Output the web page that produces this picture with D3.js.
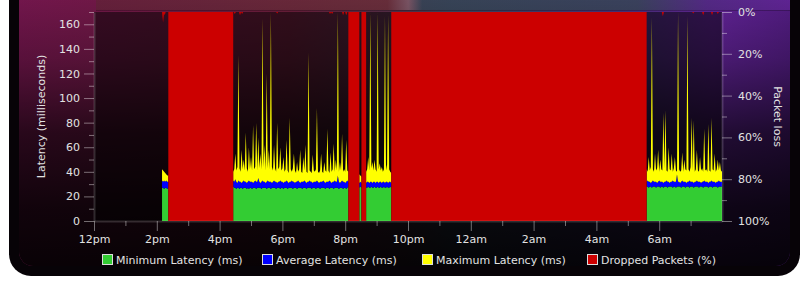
<!DOCTYPE html>
<html>
<head>
<meta charset="utf-8">
<script src="https://cdn.jsdelivr.net/npm/d3@7"></script>
<style>
html, body { margin: 0; padding: 0; background: #ffffff; }
svg { display: block; font-family: "DejaVu Sans", sans-serif; }
</style>
</head>
<body>
<svg id="chart" width="809" height="284"></svg>
<script>
// ---- data -------------------------------------------------------------
var hourTicks = [0, 2, 4, 6, 8, 10, 12, 14, 16, 18];
var hourLabels = ["12pm", "2pm", "4pm", "6pm", "8pm", "10pm", "12am", "2am", "4am", "6am"];
var latencyTicks = [0, 20, 40, 60, 80, 100, 120, 140, 160];
var lossTicks = [0, 20, 40, 60, 80, 100];
var seriesNames = ["Minimum Latency (ms)", "Average Latency (ms)", "Maximum Latency (ms)", "Dropped Packets (%)"];
var seriesColors = ["#33cc33", "#0000ff", "#ffff00", "#cc0000"];

var sampleStep = 2;                          // minutes between samples
var runStart = [130, 266, 507, 520, 1056];   // minutes after 12pm

var minLatency = [
    [27, 27, 26, 27, 27, 26, 27],
    [28, 27, 27, 26, 27, 27, 26, 27, 27, 26,
     27, 27, 27, 26, 27, 26, 27, 27, 26, 27,
     27, 27, 26, 27, 27, 27, 27, 26, 27, 27,
     27, 27, 26, 27, 27, 27, 26, 27, 27, 27,
     27, 26, 27, 27, 27, 26, 27, 27, 26, 27,
     27, 27, 26, 27, 27, 27, 27, 26, 27, 27,
     27, 26, 27, 27, 27, 27, 26, 27, 27, 27,
     26, 27, 27, 27, 27, 26, 27, 27, 27, 26,
     27, 27, 27, 26, 27, 27, 27, 27, 26, 27,
     27, 27, 26, 27, 27, 27, 26, 27, 27, 27,
     27, 26, 27, 27, 27, 26, 27, 27, 26, 27, 28],
    [27, 28, 27],
    [27, 27, 28, 27, 27, 28, 27, 27, 28, 27, 27, 28, 27,
     27, 28, 27, 27, 28, 27, 27, 28, 27, 27, 28, 27],
    [28, 28, 27, 28, 28, 27, 28, 28, 28, 27,
     28, 28, 28, 27, 28, 28, 27, 28, 28, 28,
     27, 28, 28, 28, 28, 27, 28, 28, 27, 28,
     28, 28, 28, 27, 28, 28, 28, 27, 28, 28,
     28, 27, 28, 28, 28, 27, 28, 28, 28, 28,
     27, 28, 28, 28, 27, 28, 28, 28, 28, 27,
     28, 28, 28, 27, 28, 28, 28, 28, 27, 28,
     28, 28, 28]
];

var avgLatency = [
    [33, 32, 33, 32, 33, 32, 32],
    [33, 32, 34, 32, 31, 33, 32, 32, 31, 32,
     33, 32, 32, 31, 32, 33, 32, 32, 32, 31,
     32, 33, 32, 32, 35, 32, 31, 32, 33, 32,
     32, 31, 32, 33, 32, 32, 32, 31, 32, 33,
     32, 32, 31, 32, 32, 33, 32, 32, 31, 32,
     32, 33, 32, 31, 32, 32, 33, 32, 32, 31,
     32, 32, 33, 32, 31, 32, 32, 32, 33, 32,
     31, 32, 32, 33, 32, 32, 31, 32, 32, 32,
     33, 32, 31, 32, 32, 32, 33, 32, 31, 32,
     32, 32, 33, 32, 31, 32, 32, 33, 32, 32,
     37, 32, 31, 32, 33, 32, 32, 31, 32, 33, 32],
    [31, 32, 31],
    [31, 32, 32, 31, 32, 32, 31, 32, 32, 31, 32, 32, 31,
     32, 32, 31, 32, 32, 31, 32, 32, 31, 32, 32, 31],
    [32, 33, 32, 32, 31, 32, 33, 32, 32, 32,
     31, 32, 33, 32, 32, 32, 31, 32, 32, 33,
     32, 32, 31, 32, 32, 33, 32, 32, 32, 38,
     32, 32, 31, 32, 33, 32, 32, 32, 31, 32,
     32, 33, 32, 32, 32, 31, 32, 32, 33, 32,
     32, 32, 31, 32, 32, 33, 32, 32, 32, 31,
     32, 32, 33, 32, 32, 32, 31, 32, 32, 33,
     32, 32, 32]
];

var maxLatency = [
    [42, 41, 40, 39, 38, 37, 37],
    [40, 42, 55, 41, 44, 135, 43, 40, 58, 42,
     50, 41, 72, 43, 40, 60, 42, 52, 41, 78,
     42, 44, 80, 41, 68, 43, 55, 42, 165, 44,
     62, 41, 120, 43, 58, 42, 170, 44, 41, 62,
     43, 40, 80, 42, 44, 60, 41, 43, 52, 40,
     42, 66, 41, 39, 84, 42, 40, 43, 55, 41,
     39, 48, 40, 42, 58, 40, 39, 52, 41, 62,
     40, 39, 137, 41, 40, 39, 54, 41, 40, 42,
     92, 40, 39, 41, 55, 40, 39, 48, 41, 40,
     75, 41, 39, 56, 40, 42, 63, 40, 50, 41,
     170, 40, 48, 41, 71, 40, 42, 40, 66, 41, 40],
    [38, 37, 36],
    [40, 42, 52, 41, 170, 43, 48, 41, 50, 42, 40, 170, 42,
     47, 41, 44, 40, 42, 167, 41, 46, 168, 42, 40, 39],
    [42, 40, 52, 41, 44, 166, 42, 40, 55, 41,
     43, 58, 40, 50, 42, 41, 88, 43, 90, 41,
     40, 60, 42, 41, 55, 40, 43, 52, 41, 40,
     170, 42, 40, 41, 56, 40, 50, 42, 41, 167,
     42, 40, 44, 84, 41, 82, 40, 42, 58, 41,
     40, 52, 41, 43, 40, 75, 41, 42, 40, 79,
     41, 40, 84, 42, 41, 55, 40, 42, 50, 41,
     48, 41, 40]
];

// stretches with every packet lost: [from, to] in minutes after 12pm
var outages = [[142, 266], [486, 507], [511, 520], [568, 1056]];
// short bursts of loss: [minute, percent]
var lossBursts = [[132, 5], [135, 1.5], [269, 1], [279, 1.5], [283, 1], [350, 0.7],
                  [451, 1], [455, 1], [476, 1.5], [482, 1.5],
                  [1087, 2], [1145, 0.7], [1164, 1.5], [1181, 1.5], [1192, 1]];

// ---- layout -----------------------------------------------------------
var plotLeft = 94, plotRight = 722, plotTop = 12, plotBottom = 221;
var legendX = [102, 262, 422, 587];
var textColor = "#e2e2e2";

var svg = d3.select("#chart");
var defs = svg.append("defs");

function addGradient(id, horizontal, stops) {
    var g = defs.append("linearGradient")
        .attr("id", id)
        .attr("x1", "0").attr("y1", "0")
        .attr("x2", horizontal ? "1" : "0")
        .attr("y2", horizontal ? "0" : "1");
    stops.forEach(function(s) {
        g.append("stop")
            .attr("offset", s[0])
            .attr("stop-color", s[1])
            .attr("stop-opacity", s.length > 2 ? s[2] : 1);
    });
}

addGradient("bgH", true, [[0, "#7e1854"], [0.35, "#73203f"], [0.5, "#5a3450"],
                          [0.56, "#3e4a66"], [0.78, "#4e3684"], [0.9, "#6a26a4"], [1, "#5a1f8e"]]);
addGradient("bgV", false, [[0, "#000", 0], [0.3, "#000", 0.3], [0.55, "#000", 0.68],
                           [0.8, "#000", 0.86], [1, "#000", 0.93]]);
addGradient("band", true, [[0, "#6e2440"], [0.42, "#74323f"], [0.45, "#8a6070"],
                           [0.47, "#3c4a5e"], [0.78, "#3e4a62"], [0.88, "#5a2e90"], [1, "#6a28a4"]]);

// outer dark frame and inner panel
svg.append("rect")
    .attr("x", 9).attr("y", -30)
    .attr("width", 791).attr("height", 306)
    .attr("rx", 22)
    .attr("fill", "#070307");

svg.append("rect")
    .attr("x", 19).attr("y", -30)
    .attr("width", 771).attr("height", 296)
    .attr("rx", 14)
    .attr("fill", "url(#bgH)");

svg.append("rect")
    .attr("x", 96).attr("y", -30)
    .attr("width", 694).attr("height", 40)
    .attr("fill", "url(#band)")
    .attr("opacity", 0.9);

svg.append("line")
    .attr("x1", 96).attr("x2", 790)
    .attr("y1", 10.5).attr("y2", 10.5)
    .attr("stroke", "#000")
    .attr("stroke-opacity", 0.25);

svg.append("rect")
    .attr("x", 19).attr("y", -30)
    .attr("width", 771).attr("height", 296)
    .attr("rx", 14)
    .attr("fill", "url(#bgV)");

// plot background
svg.append("rect")
    .attr("x", plotLeft).attr("y", plotTop)
    .attr("width", plotRight - plotLeft)
    .attr("height", plotBottom - plotTop)
    .attr("fill", "#000")
    .attr("fill-opacity", 0.5);

// ---- scales -----------------------------------------------------------
var x = d3.scaleLinear().domain([0, 20]).range([plotLeft, plotRight]);
var y = d3.scaleLinear().domain([0, 170]).range([plotBottom, plotTop]);
var yLoss = d3.scaleLinear().domain([0, 100]).range([plotTop, plotBottom]);

function xMin(m) { return x(m / 60); }

var plot = svg.append("g");

// latency bands, one group of areas per run of good samples
for (var r = 0; r < runStart.length; r++) {
    var samples = minLatency[r].map(function(v, i) {
        return {t: runStart[r] + i * sampleStep,
                mn: v,
                av: avgLatency[r][i],
                mx: Math.min(maxLatency[r][i], 170)};
    });

    var bands = [
        {lo: function(d) { return 0; },    hi: function(d) { return d.mn; }, color: seriesColors[0]},
        {lo: function(d) { return d.mn; }, hi: function(d) { return d.av; }, color: seriesColors[1]},
        {lo: function(d) { return d.av; }, hi: function(d) { return d.mx; }, color: seriesColors[2]}
    ];

    bands.forEach(function(b) {
        var area = d3.area()
            .x(function(d) { return xMin(d.t); })
            .y0(function(d) { return y(b.lo(d)); })
            .y1(function(d) { return y(b.hi(d)); });
        plot.append("path")
            .datum(samples)
            .attr("d", area)
            .attr("fill", b.color);
    });
}

// dropped packets hang down from the top (0% at top)
plot.selectAll(".outage")
    .data(outages)
    .enter()
    .append("rect")
    .classed("outage", true)
    .attr("x", function(d) { return xMin(d[0]); })
    .attr("y", yLoss(0))
    .attr("width", function(d) { return xMin(d[1]) - xMin(d[0]); })
    .attr("height", yLoss(100) - yLoss(0))
    .attr("fill", seriesColors[3]);

var burstArea = d3.area()
    .x(function(d) { return xMin(d[0]); })
    .y0(yLoss(0))
    .y1(function(d) { return yLoss(d[1]); });

plot.selectAll(".burst")
    .data(lossBursts)
    .enter()
    .append("path")
    .classed("burst", true)
    .attr("d", function(d) {
        return burstArea([[d[0] - 2, 0], [d[0], d[1]], [d[0] + 2, 0]]);
    })
    .attr("fill", seriesColors[3]);

// ---- axes -------------------------------------------------------------
function styleAxis(g, domainOpacity) {
    g.select(".domain")
        .attr("stroke", "#fff")
        .attr("stroke-opacity", domainOpacity)
        .attr("stroke-width", 2);
    g.selectAll(".tick line")
        .attr("stroke", "#fff")
        .attr("stroke-opacity", 0.42);
    g.selectAll(".tick text")
        .attr("fill", textColor)
        .style("font-size", "11px")
        .style("font-family", "'DejaVu Sans', sans-serif");
}

var minorLatency = d3.range(10, 171, 20);
var minorLoss = d3.range(10, 100, 20);
var minorHours = d3.range(1, 20, 2);

// left latency axis
var gLeftMinor = svg.append("g")
    .attr("transform", "translate(" + plotLeft + ",0)")
    .call(d3.axisLeft(y).tickValues(minorLatency).tickSize(5).tickFormat(""));
gLeftMinor.select(".domain").remove();
styleAxis(gLeftMinor, 0);

var gLeft = svg.append("g")
    .attr("transform", "translate(" + plotLeft + ",0)")
    .call(d3.axisLeft(y).tickValues(latencyTicks).tickSize(10).tickSizeOuter(0).tickPadding(4));
styleAxis(gLeft, 0.16);

// right loss axis
var gRightMinor = svg.append("g")
    .attr("transform", "translate(" + plotRight + ",0)")
    .call(d3.axisRight(yLoss).tickValues(minorLoss).tickSize(5).tickFormat(""));
gRightMinor.select(".domain").remove();
styleAxis(gRightMinor, 0);

var gRight = svg.append("g")
    .attr("transform", "translate(" + plotRight + ",0)")
    .call(d3.axisRight(yLoss).tickValues(lossTicks).tickSize(10).tickSizeOuter(0).tickPadding(6)
            .tickFormat(function(d) { return d + "%"; }));
styleAxis(gRight, 0.16);

// time axis
var gBottomMinor = svg.append("g")
    .attr("transform", "translate(0," + plotBottom + ")")
    .call(d3.axisBottom(x).tickValues(minorHours).tickSize(5).tickFormat(""));
gBottomMinor.select(".domain").remove();
styleAxis(gBottomMinor, 0);

var gBottom = svg.append("g")
    .attr("transform", "translate(0," + plotBottom + ")")
    .call(d3.axisBottom(x).tickValues(hourTicks).tickSize(10).tickSizeOuter(0).tickPadding(4)
            .tickFormat(function(d, i) { return hourLabels[i]; }));
styleAxis(gBottom, 0.16);

// axis titles
svg.append("text")
    .attr("transform", "translate(45," + (plotTop + plotBottom) / 2 + ") rotate(-90)")
    .attr("text-anchor", "middle")
    .attr("fill", textColor)
    .style("font-size", "11px")
    .text("Latency (milliseconds)");

svg.append("text")
    .attr("transform", "translate(774," + (plotTop + plotBottom) / 2 + ") rotate(90)")
    .attr("text-anchor", "middle")
    .attr("fill", textColor)
    .style("font-size", "11px")
    .text("Packet loss");

// ---- legend -----------------------------------------------------------
var legend = svg.append("g")
    .attr("transform", "translate(0,254)");

var items = legend.selectAll(".legend-item")
    .data(seriesNames)
    .enter()
    .append("g")
    .classed("legend-item", true)
    .attr("transform", function(d, i) { return "translate(" + legendX[i] + ",0)"; });

items.append("rect")
    .attr("x", 0.5).attr("y", 0.5)
    .attr("width", 10).attr("height", 10)
    .attr("fill", function(d, i) { return seriesColors[i]; })
    .attr("stroke", "#dddddd")
    .attr("stroke-width", 1);

items.append("text")
    .attr("x", 14)
    .attr("y", 9.5)
    .attr("fill", textColor)
    .style("font-size", "11px")
    .text(function(d) { return d; });
</script>
</body>
</html>
